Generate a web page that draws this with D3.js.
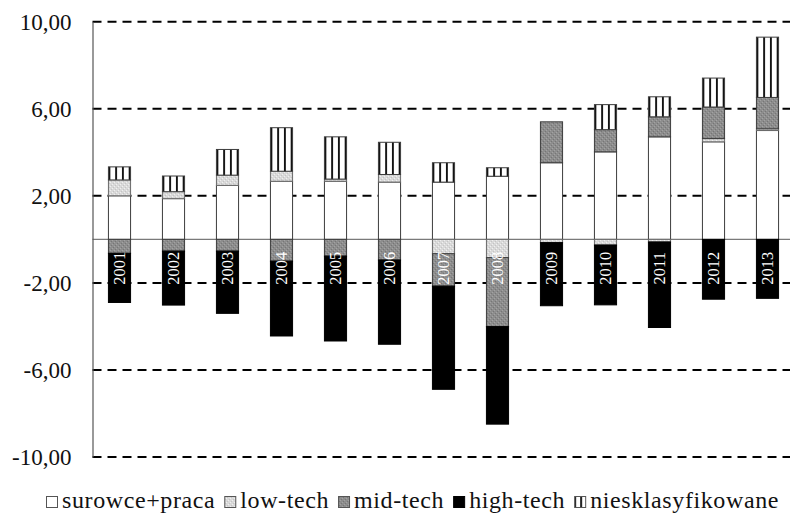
<!DOCTYPE html>
<html>
<head>
<meta charset="utf-8">
<script src="https://cdn.jsdelivr.net/npm/d3@7"></script>
<style>
  html, body { margin: 0; padding: 0; background: #fff; }
  svg { display: block; }
</style>
</head>
<body>
<svg id="chart" width="790" height="514"></svg>
<script>
// ---- data ----
const years = ["2001","2002","2003","2004","2005","2006","2007","2008","2009","2010","2011","2012","2013"];
const surowce   = [2.00, 1.87, 2.48, 2.67, 2.67, 2.63, 2.63, 2.90, 3.52, 4.02, 4.71, 4.48, 5.00];
const lowTech   = [0.73, 0.32, 0.47, 0.46, 0.10, 0.35, -0.66, -0.84, -0.15, -0.26, -0.12, 0.15, 0.08];
const midTech   = [-0.64, -0.54, -0.54, -1.00, -0.77, -0.95, -1.49, -3.17, 1.88, 1.02, 0.92, 1.45, 1.44];
const highTech  = [-2.26, -2.48, -2.86, -3.44, -3.90, -3.87, -4.74, -4.48, -2.90, -2.75, -3.93, -2.75, -2.71];
const niesk     = [0.60, 0.72, 1.18, 2.00, 1.94, 1.48, 0.89, 0.39, 0.00, 1.15, 0.92, 1.33, 2.77];
const seriesNames = ["surowce+praca", "low-tech", "mid-tech", "high-tech", "niesklasyfikowane"];
const tickValues = [10, 6, 2, -2, -6, -10];
const tickLabels = ["10,00", "6,00", "2,00", "-2,00", "-6,00", "-10,00"];

const FONT = "'Liberation Serif', 'Times New Roman', Times, serif";

const seriesValues = [surowce, lowTech, midTech, highTech, niesk];
const keys = ["s0","s1","s2","s3","s4"];
const table = years.map((yr, i) => {
  const row = { year: yr };
  keys.forEach((k, j) => row[k] = seriesValues[j][i]);
  return row;
});

const svg = d3.select("#chart");
const x = d3.scaleBand().domain(years).range([92.5, 794.5]).paddingInner(0.59).paddingOuter(0.295);
const y = d3.scaleLinear().domain([-10, 10]).range([457, 21.7]);

// ---- patterns ----
const defs = svg.append("defs");
function speckle(id, base, light, dark) {
  const p = defs.append("pattern").attr("id", id).attr("patternUnits", "userSpaceOnUse")
    .attr("width", 4).attr("height", 4);
  p.append("rect").attr("width", 4).attr("height", 4).attr("fill", base);
  p.append("rect").attr("x", 0).attr("y", 0).attr("width", 1).attr("height", 1).attr("fill", light);
  p.append("rect").attr("x", 2).attr("y", 2).attr("width", 1).attr("height", 1).attr("fill", light);
  p.append("rect").attr("x", 3).attr("y", 1).attr("width", 1).attr("height", 1).attr("fill", dark);
  p.append("rect").attr("x", 1).attr("y", 3).attr("width", 1).attr("height", 1).attr("fill", dark);
}
speckle("lowPat", "#d9d9d9", "#f0f0f0", "#c4c4c4");
speckle("midPat", "#8d8d8d", "#a3a3a3", "#767676");
function stripes(id, x0, w) {
  const p = defs.append("pattern").attr("id", id).attr("patternUnits", "userSpaceOnUse")
    .attr("x", x0).attr("y", 0).attr("width", w).attr("height", 10);
  p.append("rect").attr("width", w).attr("height", 10).attr("fill", "#fff");
  p.append("rect").attr("x", 0).attr("width", 1.9).attr("height", 10).attr("fill", "#111");
  return p;
}
stripes("stripePat", x(years[0]), x.step() / 8);

const fills = ["#ffffff", "url(#lowPat)", "url(#midPat)", "#000000", "url(#stripePat)"];
const strokes = ["#3c3c3c", "#6a6a6a", "#3c3c3c", "#000000", "#3c3c3c"];

// ---- gridlines ----
const gx0 = 92.5, gx1 = 790;
svg.append("g").selectAll("line").data(tickValues).join("line")
  .attr("x1", gx0).attr("x2", gx1)
  .attr("y1", d => y(d)).attr("y2", d => y(d))
  .attr("stroke", "#000").attr("stroke-width", 2)
  .attr("stroke-dasharray", "9,6");

// zero line
svg.append("line").attr("x1", gx0).attr("x2", gx1)
  .attr("y1", y(0)).attr("y2", y(0))
  .attr("stroke", "#7a7a7a").attr("stroke-width", 1.2);

// ---- bars ----
const stack = d3.stack().keys(keys).offset(d3.stackOffsetDiverging);
const stacked = stack(table);
const barG = svg.append("g");
stacked.forEach((layer, j) => {
  barG.append("g").selectAll("rect").data(layer.filter(d => d[1] !== d[0])).join("rect")
    .attr("x", d => x(d.data.year))
    .attr("width", x.bandwidth())
    .attr("y", d => y(Math.max(d[0], d[1])))
    .attr("height", d => Math.abs(y(d[0]) - y(d[1])))
    .attr("fill", fills[j])
    .attr("stroke", strokes[j])
    .attr("stroke-width", 1);
});

// year labels
svg.append("g").selectAll("text").data(years).join("text")
  .attr("transform", d => `translate(${x(d) + x.bandwidth() / 2},${y(-1.33)}) rotate(-90)`)
  .attr("text-anchor", "middle")
  .attr("dominant-baseline", "central")
  .attr("fill", "#fff")
  .attr("font-family", FONT)
  .attr("font-size", 16.5)
  .text(d => d);

// ---- y axis ----
const yAxis = d3.axisLeft(y).tickValues(tickValues).tickFormat((d, i) => tickLabels[i]).tickSize(0).tickPadding(21);
const ag = svg.append("g").attr("transform", `translate(${gx0},0)`).call(yAxis);
ag.attr("font-family", FONT);
ag.select(".domain").attr("stroke", "#555").attr("stroke-width", 1.2);
ag.selectAll("text").attr("font-size", 23).attr("fill", "#111").attr("font-family", FONT);

// ---- legend ----
const lg = svg.append("g");
let lx = 46;
const boxY = 496.5, boxS = 12, baseY = 508;
seriesNames.forEach((name, j) => {
  let fill = fills[j];
  if (j === 4) {
    stripes("stripeLeg", lx, 6);
    fill = "url(#stripeLeg)";
  }
  lg.append("rect").attr("x", lx + 0.5).attr("y", boxY).attr("width", boxS - 1).attr("height", boxS - 1)
    .attr("fill", fill).attr("stroke", j === 3 ? "#000" : "#555").attr("stroke-width", 1);
  const t = lg.append("text").attr("x", lx + 16).attr("y", baseY)
    .attr("font-family", FONT)
    .attr("font-size", 24).attr("letter-spacing", "0.6px").attr("fill", "#111").text(name);
  lx = lx + 16 + t.node().getComputedTextLength() + 9;
});
</script>
</body>
</html>
